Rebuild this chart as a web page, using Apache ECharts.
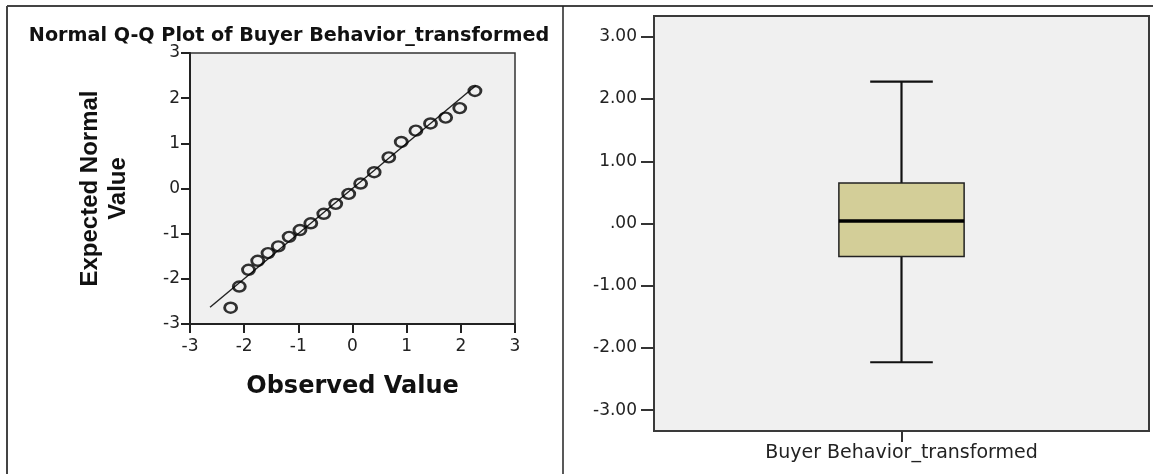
<!DOCTYPE html>
<html>
<head>
<meta charset="utf-8">
<script src="https://cdn.jsdelivr.net/npm/echarts@6.0.0/dist/echarts.min.js"></script>
<style>
  html, body { margin: 0; padding: 0; background: #fff; }
  #chart { width: 1153px; height: 474px; }
</style>
</head>
<body>
<div id="chart"></div>
<script>
// Q-Q plot: observed vs expected normal
var qqObserved = [-2.25, -2.09, -1.92, -1.75, -1.56, -1.37, -1.17, -0.97, -0.77, -0.53, -0.31,
                  -0.07, 0.15, 0.40, 0.67, 0.90, 1.17, 1.44, 1.72, 1.98, 2.26];
var qqExpected = [-2.64, -2.17, -1.80, -1.60, -1.43, -1.28, -1.07, -0.92, -0.77, -0.56, -0.34,
                  -0.12, 0.11, 0.36, 0.69, 1.03, 1.28, 1.44, 1.57, 1.78, 2.16];
var qqLineEnds = [-2.63, 2.28];
var qqTicks = [-3, -2, -1, 0, 1, 2, 3];

// boxplot: low whisker, Q1, median, Q3, high whisker
var boxCategories = ['Buyer Behavior_transformed'];
var boxStats = [-2.23, -0.53, 0.04, 0.65, 2.28];
var boxTicks = [-3, -2, -1, 0, 1, 2, 3];
var boxTickLabels = ['-3.00', '-2.00', '-1.00', '.00', '1.00', '2.00', '3.00'];

var qqPoints = qqObserved.map(function (x, i) { return [x, qqExpected[i]]; });
var qqLine = qqLineEnds.map(function (v) { return [v, v]; });

var chart = echarts.init(document.getElementById('chart'));

var tickFont = { color: '#222', fontFamily: 'DejaVu Sans', fontSize: 17 };

var option = {
  backgroundColor: '#fff',
  animation: false,
  title: {
    text: 'Normal Q-Q Plot of Buyer Behavior_transformed',
    left: 284,
    top: 22,
    textAlign: 'center',
    textStyle: { fontFamily: 'DejaVu Sans', fontWeight: 'bold', fontSize: 19.2, color: '#111' }
  },
  graphic: [
    { type: 'line', shape: { x1: 7, y1: 6, x2: 1153, y2: 6 }, style: { stroke: '#444', lineWidth: 2 } },
    { type: 'line', shape: { x1: 7, y1: 6, x2: 7, y2: 474 }, style: { stroke: '#444', lineWidth: 2 } },
    { type: 'line', shape: { x1: 563, y1: 6, x2: 563, y2: 474 }, style: { stroke: '#222', lineWidth: 1.5 } }
  ],
  grid: [
    { left: 190, top: 53, width: 325, height: 271, show: true,
      backgroundColor: '#f0f0f0', borderColor: '#333', borderWidth: 1.5 },
    { left: 654, top: 16, width: 495, height: 415, show: true,
      backgroundColor: '#f0f0f0', borderColor: '#3a3a3a', borderWidth: 2 }
  ],
  xAxis: [
    {
      gridIndex: 0, type: 'value', min: -3, max: 3, interval: 1,
      name: 'Observed Value', nameLocation: 'middle', nameGap: 51,
      nameTextStyle: { fontFamily: 'DejaVu Sans', fontWeight: 'bold', fontSize: 24, color: '#111' },
      axisLine: { show: true, onZero: false, lineStyle: { color: '#222', width: 2 } },
      axisTick: { show: true, inside: false, length: 9, lineStyle: { color: '#222', width: 2 } },
      axisLabel: Object.assign({ margin: 14 }, tickFont),
      splitLine: { show: false }
    },
    {
      gridIndex: 1, type: 'category', data: boxCategories,
      axisLine: { show: true, onZero: false, lineStyle: { color: '#3a3a3a', width: 2 } },
      axisTick: { show: true, alignWithLabel: true, length: 11, lineStyle: { color: '#333', width: 2 } },
      axisLabel: { margin: 13, color: '#222', fontFamily: 'DejaVu Sans', fontSize: 19 },
      splitLine: { show: false }
    }
  ],
  yAxis: [
    {
      gridIndex: 0, type: 'value', min: -3, max: 3, interval: 1,
      name: 'Expected Normal\nValue', nameLocation: 'middle', nameGap: 58, nameRotate: 90,
      nameTextStyle: { fontFamily: 'Liberation Sans', fontWeight: 'bold', fontSize: 24, lineHeight: 28, color: '#111' },
      axisLine: { show: true, onZero: false, lineStyle: { color: '#222', width: 2 } },
      axisTick: { show: true, inside: false, length: 9, lineStyle: { color: '#222', width: 2 } },
      axisLabel: Object.assign({ margin: 10 }, tickFont),
      splitLine: { show: false }
    },
    {
      gridIndex: 1, type: 'value', min: -3.335, max: 3.335,
      axisLine: { show: true, onZero: false, lineStyle: { color: '#3a3a3a', width: 2 } },
      axisTick: { show: true, length: 13, customValues: boxTicks, lineStyle: { color: '#333', width: 2 } },
      axisLabel: Object.assign({
        margin: 17,
        customValues: boxTicks,
        formatter: function (v) {
          var i = boxTicks.indexOf(Math.round(v));
          return i >= 0 ? boxTickLabels[i] : '';
        }
      }, tickFont),
      splitLine: { show: false }
    }
  ],
  series: [
    {
      type: 'line', xAxisIndex: 0, yAxisIndex: 0, data: qqLine,
      symbol: 'none', z: 2,
      lineStyle: { color: '#222', width: 1.4 }
    },
    {
      type: 'scatter', xAxisIndex: 0, yAxisIndex: 0, data: qqPoints,
      symbol: 'circle', symbolSize: [12, 10], z: 3,
      itemStyle: { color: 'transparent', borderColor: '#000', borderWidth: 2.6 }
    },
    {
      type: 'custom', xAxisIndex: 1, yAxisIndex: 1,
      data: [[0].concat(boxStats)],
      encode: { x: 0, y: [1, 2, 3, 4, 5] },
      renderItem: function (params, api) {
        var cat = api.value(0);
        var lo = api.coord([cat, api.value(1)]);
        var q1 = api.coord([cat, api.value(2)]);
        var med = api.coord([cat, api.value(3)]);
        var q3 = api.coord([cat, api.value(4)]);
        var hi = api.coord([cat, api.value(5)]);
        var band = api.size([1, 0])[0];
        var bw = band * 0.253;
        var cw = bw * 0.5;
        var cx = lo[0];
        var stroke = { stroke: '#111', lineWidth: 2.2 };
        return {
          type: 'group',
          children: [
            { type: 'line', shape: { x1: cx, y1: hi[1], x2: cx, y2: q3[1] }, style: stroke },
            { type: 'line', shape: { x1: cx, y1: q1[1], x2: cx, y2: lo[1] }, style: stroke },
            { type: 'line', shape: { x1: cx - cw / 2, y1: hi[1], x2: cx + cw / 2, y2: hi[1] }, style: stroke },
            { type: 'line', shape: { x1: cx - cw / 2, y1: lo[1], x2: cx + cw / 2, y2: lo[1] }, style: stroke },
            { type: 'rect', shape: { x: cx - bw / 2, y: q3[1], width: bw, height: q1[1] - q3[1] },
              style: { fill: '#d3ce98', stroke: '#222', lineWidth: 1.5 } },
            { type: 'line', shape: { x1: cx - bw / 2, y1: med[1], x2: cx + bw / 2, y2: med[1] },
              style: { stroke: '#000', lineWidth: 3.5 } }
          ]
        };
      }
    }
  ]
};

chart.setOption(option);
</script>
</body>
</html>
